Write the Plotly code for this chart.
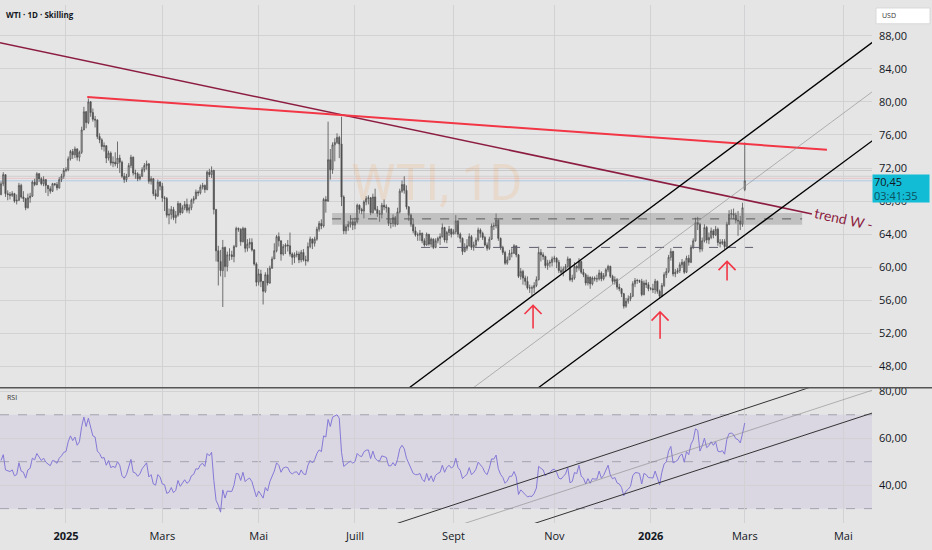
import pandas as pd
import plotly.graph_objects as go

# ---------------- data ----------------
START = "2024-11-21"          # first daily bar (weekday calendar)
FIRST_OPEN = 68.8
CLOSE = [
    70.1, 71.2, 68.9, 68.8, 68.7, 68.9, 68.0, 68.1, 69.9, 68.5,
    68.3, 67.2, 68.4, 68.6, 70.3, 70.0, 71.3, 70.7, 70.1, 70.6,
    69.9, 69.5, 69.2, 70.1, 70.0, 69.6, 70.6, 71.0, 71.7, 71.8,
    73.1, 74.0, 73.6, 74.3, 73.3, 73.9, 76.6, 78.8, 77.5, 80.0,
    78.7, 77.9, 77.8, 75.8, 75.4, 74.6, 74.7, 73.2, 73.8, 72.6,
    72.7, 72.5, 73.2, 72.7, 71.0, 70.6, 71.0, 72.3, 73.3, 71.4,
    71.3, 70.7, 71.0, 71.8, 72.3, 72.5, 70.4, 70.7, 68.9, 68.6,
    70.3, 69.8, 68.4, 68.3, 66.3, 66.4, 67.0, 66.0, 66.3, 67.7,
    66.6, 67.2, 67.6, 66.9, 67.2, 68.1, 68.3, 69.1, 69.0, 69.7,
    69.9, 69.4, 71.5, 71.2, 71.7, 67.0, 62.0, 60.7, 59.6, 62.4,
    60.1, 61.5, 61.5, 61.3, 62.5, 64.7, 64.6, 63.1, 64.7, 62.3,
    62.8, 63.0, 62.1, 60.4, 58.2, 59.2, 58.3, 57.1, 59.1, 58.1,
    59.9, 61.0, 62.0, 63.7, 63.2, 61.6, 62.5, 62.7, 62.6, 61.6,
    61.2, 61.5, 61.6, 60.9, 61.8, 60.9, 60.8, 62.5, 63.4, 62.9,
    63.4, 64.6, 65.3, 65.0, 68.2, 68.0, 73.0, 71.8, 74.8, 75.1,
    75.7, 74.9, 68.5, 64.4, 64.9, 65.2, 65.5, 65.1, 65.5, 67.5,
    67.0, 66.8, 67.9, 68.3, 68.4, 66.6, 68.5, 67.0, 66.5, 66.4,
    67.5, 67.3, 67.2, 65.3, 65.3, 66.0, 65.2, 66.7, 69.2, 70.0,
    69.3, 67.3, 66.3, 65.2, 64.4, 63.9, 63.9, 64.1, 63.2, 62.7,
    64.0, 62.8, 63.4, 62.4, 63.2, 63.5, 63.7, 64.8, 63.3, 64.2,
    64.6, 64.0, 64.3, 65.6, 64.0, 63.5, 61.9, 62.3, 62.6, 63.7,
    62.4, 62.7, 63.3, 64.5, 64.1, 63.6, 62.7, 62.3, 63.4, 65.0,
    65.0, 65.7, 63.5, 62.4, 61.8, 60.5, 60.9, 61.7, 61.7, 62.6,
    61.5, 58.9, 59.5, 58.7, 58.3, 57.5, 57.5, 57.5, 57.8, 58.5,
    61.8, 61.5, 61.3, 60.2, 60.5, 60.6, 61.0, 61.1, 60.6, 59.6,
    59.4, 59.8, 60.1, 61.0, 58.5, 58.7, 60.1, 59.9, 60.7, 59.4,
    59.1, 58.1, 58.8, 58.0, 58.7, 58.6, 58.6, 59.3, 58.6, 59.0,
    59.7, 60.1, 58.9, 58.3, 58.5, 57.6, 57.4, 56.8, 55.3, 55.9,
    56.2, 56.5, 58.0, 58.4, 58.4, 58.3, 56.7, 58.1, 57.9, 57.4,
    57.4, 57.3, 58.3, 57.1, 56.5, 57.8, 59.1, 59.5, 61.2, 61.9,
    59.2, 59.4, 59.6, 60.3, 60.6, 59.4, 61.1, 60.6, 62.4, 63.2,
    65.4, 65.2, 62.2, 63.2, 64.8, 63.3, 63.6, 64.4, 63.9, 64.6,
    63.0, 62.9, 63.1, 62.5, 65.2, 66.4, 66.5, 66.3, 65.7, 65.6,
    65.2, 67.2, 70.45,
]
HIGH = [
    70.4, 71.5, 71.2, 69.3, 69.1, 69.2, 69.0, 68.8, 70.2, 70.1,
    69.2, 68.4, 68.9, 69.0, 70.5, 70.7, 71.5, 71.4, 70.9, 71.0,
    70.6, 69.9, 69.8, 70.2, 70.2, 70.3, 70.9, 71.3, 72.0, 72.1,
    73.4, 74.2, 74.3, 74.6, 74.4, 74.1, 77.0, 79.4, 78.9, 80.4,
    80.1, 79.2, 78.3, 77.9, 76.2, 75.6, 75.1, 74.6, 74.1, 74.0,
    73.4, 73.9, 75.2, 73.6, 72.9, 71.4, 71.3, 72.6, 73.6, 73.4,
    71.8, 71.5, 71.3, 72.1, 72.6, 72.9, 72.6, 71.0, 70.8, 69.4,
    70.6, 70.4, 70.2, 68.6, 68.5, 67.1, 67.4, 67.3, 66.8, 68.0,
    67.8, 67.5, 68.0, 68.3, 67.6, 68.3, 68.6, 69.4, 69.3, 70.0,
    70.2, 70.0, 71.7, 71.9, 72.2, 71.8, 67.0, 62.6, 62.1, 63.3,
    62.5, 61.9, 62.3, 62.0, 62.7, 64.9, 64.8, 64.7, 64.9, 64.8,
    63.4, 63.5, 63.5, 62.2, 60.6, 59.8, 59.7, 58.0, 59.4, 59.9,
    60.2, 61.3, 62.9, 63.9, 64.2, 63.1, 62.8, 62.9, 63.3, 64.2,
    61.8, 61.8, 62.0, 61.9, 62.1, 62.2, 61.4, 63.0, 63.7, 63.5,
    63.7, 64.9, 65.6, 65.8, 68.4, 68.6, 77.6, 74.3, 75.1, 75.6,
    76.2, 75.9, 78.2, 68.7, 65.2, 65.6, 66.3, 65.8, 66.0, 67.7,
    67.6, 67.2, 68.1, 68.6, 68.7, 68.5, 68.9, 69.5, 67.4, 66.9,
    67.8, 68.2, 67.6, 67.2, 65.8, 66.4, 66.2, 67.2, 69.5, 70.5,
    71.0, 69.9, 67.4, 66.5, 65.9, 64.9, 64.2, 64.5, 64.2, 63.5,
    64.2, 64.0, 63.6, 63.5, 63.5, 63.7, 64.1, 65.3, 64.9, 64.4,
    65.0, 64.7, 64.6, 66.3, 65.7, 64.2, 63.6, 62.9, 63.4, 64.1,
    63.9, 63.1, 63.6, 64.8, 64.7, 64.3, 63.8, 63.0, 63.7, 65.3,
    65.4, 66.5, 65.8, 63.6, 62.6, 62.0, 61.3, 62.1, 62.3, 62.8,
    62.6, 61.6, 59.9, 59.7, 59.0, 58.9, 57.9, 57.8, 58.2, 58.9,
    62.5, 62.2, 61.8, 61.4, 60.9, 60.9, 61.3, 61.4, 61.2, 60.9,
    60.1, 60.1, 60.4, 61.3, 61.1, 59.1, 60.6, 60.3, 61.1, 60.8,
    59.8, 59.3, 59.1, 58.9, 58.9, 58.9, 59.1, 59.7, 59.5, 59.3,
    59.9, 60.3, 60.2, 59.1, 58.9, 58.7, 58.0, 57.5, 56.9, 56.3,
    56.6, 56.9, 58.3, 58.7, 58.6, 58.5, 58.6, 58.4, 58.5, 58.2,
    57.6, 58.0, 58.6, 58.4, 57.3, 58.1, 59.4, 59.9, 61.5, 62.3,
    62.0, 59.8, 59.9, 60.6, 61.0, 60.8, 61.4, 61.5, 62.7, 63.5,
    66.0, 66.1, 65.4, 63.6, 65.2, 65.0, 64.2, 64.8, 64.6, 65.0,
    64.8, 63.4, 63.4, 63.4, 65.5, 66.9, 67.0, 67.1, 66.6, 66.8,
    66.2, 67.8, 75.1,
]
LOW = [
    68.7, 69.8, 68.5, 68.1, 68.2, 68.5, 67.8, 67.6, 68.0, 68.3,
    67.9, 66.9, 67.1, 67.8, 68.5, 69.8, 69.9, 70.3, 69.9, 69.8,
    69.0, 68.6, 68.9, 69.1, 69.8, 69.3, 69.5, 70.3, 70.7, 71.5,
    71.6, 72.9, 73.1, 73.2, 72.9, 72.8, 73.7, 76.6, 76.8, 77.3,
    78.2, 77.6, 76.9, 75.5, 75.0, 74.2, 74.0, 72.6, 72.9, 72.3,
    72.1, 72.2, 72.0, 71.4, 70.8, 70.2, 70.3, 70.9, 72.0, 71.1,
    70.7, 70.4, 70.5, 70.9, 71.5, 71.8, 70.1, 70.0, 68.6, 68.2,
    68.5, 69.3, 67.9, 66.8, 66.0, 65.2, 65.8, 65.7, 65.3, 66.1,
    66.3, 66.5, 66.9, 66.6, 66.5, 66.9, 67.7, 68.2, 68.6, 68.8,
    69.4, 69.0, 69.3, 70.9, 70.8, 66.4, 60.7, 57.8, 58.9, 55.2,
    58.8, 59.5, 60.8, 60.9, 60.6, 62.4, 64.3, 62.6, 63.0, 61.8,
    61.9, 62.3, 61.9, 60.2, 57.7, 57.8, 57.6, 55.5, 56.9, 57.8,
    58.0, 59.8, 61.0, 61.8, 62.5, 60.8, 61.4, 61.6, 61.9, 61.3,
    60.3, 60.5, 61.2, 60.5, 60.6, 60.7, 60.2, 60.6, 62.3, 62.2,
    62.5, 63.2, 64.3, 64.6, 64.8, 66.6, 67.9, 70.6, 71.3, 72.8,
    74.9, 73.2, 67.4, 64.0, 64.0, 64.4, 64.8, 64.5, 64.6, 65.3,
    66.5, 66.4, 65.9, 67.5, 67.6, 66.3, 66.5, 66.8, 66.1, 65.5,
    65.9, 66.9, 66.6, 65.0, 64.7, 64.9, 64.9, 65.1, 66.5, 69.0,
    68.9, 67.0, 65.6, 64.9, 64.1, 63.7, 63.2, 63.2, 62.9, 62.5,
    62.6, 62.6, 62.4, 62.2, 62.3, 62.9, 62.7, 63.6, 63.0, 62.9,
    63.8, 63.6, 64.0, 64.0, 63.6, 63.0, 61.5, 61.8, 62.0, 62.5,
    62.1, 62.0, 62.4, 63.1, 63.6, 63.3, 62.5, 62.0, 62.1, 63.3,
    64.5, 64.7, 63.2, 62.1, 61.5, 60.3, 60.3, 60.9, 61.2, 61.6,
    61.2, 58.7, 58.5, 57.9, 57.8, 57.3, 56.9, 56.5, 56.9, 57.6,
    58.4, 60.7, 60.9, 59.9, 59.7, 60.0, 60.1, 60.6, 59.9, 59.3,
    59.2, 58.9, 59.5, 59.9, 58.3, 58.2, 58.5, 59.4, 59.6, 59.2,
    58.8, 57.8, 57.8, 57.4, 57.8, 58.3, 58.2, 58.4, 58.3, 58.4,
    58.8, 59.4, 58.7, 58.0, 57.9, 57.3, 57.1, 56.4, 55.0, 55.1,
    55.6, 55.9, 56.4, 57.6, 58.0, 58.1, 56.5, 56.6, 57.5, 57.1,
    57.2, 56.9, 56.8, 56.8, 56.2, 56.4, 57.6, 58.7, 59.3, 60.8,
    58.9, 58.8, 59.2, 59.3, 59.9, 59.2, 59.3, 60.2, 60.5, 62.2,
    63.1, 64.5, 61.8, 61.9, 63.0, 62.9, 62.8, 63.4, 63.5, 63.8,
    62.6, 62.4, 62.7, 62.2, 62.3, 65.1, 65.9, 65.8, 65.3, 63.8,
    64.5, 64.9, 69.2,
]
GAP_OPEN = {332: 69.4}        # bars that opened away from the prior close
RSI = [
    50.5, 53, 46.5, 46, 45.8, 46.5, 44, 44.5, 49.5, 46,
    45.5, 43, 46.5, 47.2, 51.5, 50.8, 53.5, 52, 50.5, 51.5,
    49.8, 49, 48.3, 50.5, 50.2, 49.3, 51.5, 52.5, 54, 54.3,
    58.5, 61, 59, 60.5, 57, 58.5, 65, 69, 65, 68.5,
    64, 61, 60.5, 54.5, 53.5, 51.5, 51.8, 48.5, 50.5, 47.5,
    48, 47.5, 50, 48.5, 44, 43, 44.5, 48, 51, 45.5,
    45.2, 43.8, 44.8, 47, 48.5, 49.5, 43.5, 44.5, 40.5, 40,
    44.5, 43.5, 40.5, 40.2, 36.5, 37, 39, 36.8, 37.8, 42,
    39.5, 41.2, 42.3, 40.8, 41.6, 44, 44.6, 47, 46.8, 48.7,
    49.3, 48, 53.5, 52.5, 54, 42, 33.5, 31.5, 28.5, 38,
    34.5, 37.5, 37.5, 37.3, 40, 45, 44.8, 42, 45.5, 41.5,
    42.5, 43, 41.5, 38.5, 35, 37.5, 36, 34.5, 39, 37.5,
    41.5, 44, 46, 49.5, 48.5, 45.5, 47.3, 47.7, 47.5, 45.5,
    44.8, 45.5, 45.7, 44.3, 46.5, 44.8, 44.5, 48.5, 50.5, 49.5,
    50.8, 53.5, 55, 54.3, 61, 60.5, 68, 65, 69, 69.5,
    70, 68.5, 54, 48, 49, 49.6, 50.2, 49.4, 50, 53.5,
    52.5, 52.2, 54.2, 54.9, 55, 51.3, 54.5, 51.5, 50.5, 50.3,
    52.5, 52, 51.8, 48.3, 48.2, 49.6, 48.2, 51, 55.5, 57,
    55.5, 51.5, 49.5, 47.5, 45, 44.5, 44.5, 45, 42.5, 41.5,
    45, 42, 44, 41.5, 44.2, 45, 45.5, 48.5, 45.5, 47.5,
    48.5, 47.3, 48, 51.5, 47.5, 46.3, 42.8, 43.8, 44.6, 47.5,
    44.5, 45.3, 46.8, 49.8, 48.7, 47.5, 45.4, 44.5, 47.3, 51.2,
    51.1, 52.8, 47, 44.6, 43.3, 40.8, 41.8, 43.8, 43.8, 45.8,
    43.5, 36, 38, 36.8, 36, 35, 35.3, 35.2, 36.5, 38.8,
    48, 47.2, 46.5, 44, 45, 45.3, 46.5, 46.8, 45.5, 43,
    42.6, 43.7, 44.8, 47.5, 41, 41.6, 45.4, 44.9, 48.5, 43.8,
    43, 40.5, 42.8, 40.8, 42.8, 42.6, 42.6, 46, 43, 44.2,
    46.2, 48.5, 44.2, 42.7, 43.3, 41, 40.5, 39, 35.5, 37.5,
    38.3, 39.5, 44, 45.3, 45.3, 45, 40.5, 45, 44.5, 43.2,
    43.2, 43, 46, 42.8, 40.2, 45.5, 49, 50, 54.5, 56.5,
    49.5, 50, 50.6, 52.5, 53.3, 49.8, 54.3, 53, 57.5, 59.3,
    64, 63.3, 54.5, 56.8, 60, 56, 56.8, 58.5, 57, 58.5,
    54.5, 54.2, 54.7, 53.2, 59.5, 62, 62.2, 61.6, 59.8, 59.4,
    58, 62, 66.5,
]
N = len(CLOSE)
assert len(HIGH) == N and len(LOW) == N and len(RSI) == N, (len(CLOSE), len(HIGH), len(LOW), len(RSI))

MONTH_TICKS = ["2025-01", "2025-03", "2025-05", "2025-07", "2025-09",
               "2025-11", "2026-01", "2026-03", "2026-05"]
MONTH_TEXT = ["<b>2025</b>", "Mars", "Mai", "Juill", "Sept", "Nov",
              "<b>2026</b>", "Mars", "Mai"]
PRICE_TICKS = [48, 52, 56, 60, 64, 68, 72, 76, 80, 84, 88]
RSI_TICKS = [40, 60, 80]
RSI_LEVELS = [70, 50, 30]
LAST_PRICE = 70.45
COUNTDOWN = "03:41:35"
REF_LINES = [71.7, 71.0, 70.75]      # faint horizontal reference lines

# drawings: (bar index, value)
TREND_W = [(-0.5, 87.15), (362.0, 66.45)]
RED_RES = [(38.5, 80.6), (368.7, 74.2)]
CH_UP = [(180.0, 44.98), (392.0, 87.81)]
CH_MID = [(208.0, 44.86), (392.0, 81.84)]
CH_LOW = [(238.0, 45.06), (392.0, 75.91)]
ZONE = [(147.8, 65.13), (357.6, 66.56)]
ZONE_MID = 65.85
SUPPORT = [(187.5, 62.4), (335.7, 62.4)]
ARROWS = [(237.5, 55.4, 52.6), (294.2, 54.6, 51.35), (324.1, 60.7, 58.4)]
RSI_UP = [(170.0, 21.55), (362.0, 81.97)]
RSI_MID = [(205.0, 23.09), (392.0, 81.43)]
RSI_LOW = [(235.0, 22.72), (392.0, 71.70)]

# ---------------- build ----------------
cal = pd.bdate_range(START, "2026-07-31")
xi = list(range(N))
month_key = list(cal.strftime("%Y-%m"))
tickvals = [int(month_key.index(m)) for m in MONTH_TICKS]

opens = [FIRST_OPEN] + CLOSE[:-1]
for k, v in GAP_OPEN.items():
    opens[k] = v

BG = "#e5e5e6"
GRID = "#d2d2d4"
FONT = "Open Sans"
TXT = "#131722"

fig = go.Figure()
fig.add_trace(go.Candlestick(
    x=xi, open=opens, high=HIGH, low=LOW, close=CLOSE,
    increasing=dict(line=dict(color="#4f4f4f", width=0.8), fillcolor="#c4c4c4"),
    decreasing=dict(line=dict(color="#4f4f4f", width=0.8), fillcolor="#4f4f4f"),
    whiskerwidth=0, xaxis="x", yaxis="y", hoverinfo="skip", showlegend=False))
fig.add_trace(go.Scatter(
    x=xi, y=RSI, mode="lines", line=dict(color="#8479d6", width=1),
    xaxis="x2", yaxis="y2", hoverinfo="skip", showlegend=False))

XR = [-0.45, 388.8]
shapes = []


def seg(pts, color, width, xr="x", yr="y", dash="solid"):
    (a, b), (c, d) = pts
    shapes.append(dict(type="line", xref=xr, yref=yr, x0=a, y0=b, x1=c, y1=d,
                       line=dict(color=color, width=width, dash=dash), layer="above"))


# faint reference lines + last price line
for v, col in zip(REF_LINES, ["#cacaca", "#cfcfcf", "rgba(242,54,69,0.18)"]):
    shapes.append(dict(type="line", xref="x domain", yref="y", x0=0, x1=1, y0=v, y1=v,
                       line=dict(color=col, width=1), layer="below"))
shapes.append(dict(type="line", xref="x domain", yref="y", x0=0, x1=1,
                   y0=LAST_PRICE, y1=LAST_PRICE,
                   line=dict(color="rgba(80,150,230,0.35)", width=1), layer="below"))

# zone + dashed levels
(z0, zl), (z1, zh) = ZONE
shapes.append(dict(type="rect", xref="x", yref="y", x0=z0, x1=z1, y0=zl, y1=zh,
                   fillcolor="rgba(120,120,120,0.33)", line=dict(width=0), layer="above"))
seg([(z0, ZONE_MID), (z1, ZONE_MID)], "#5a5a5a", 1, dash="dash")
seg(SUPPORT, "#5e5e6e", 1, dash="dash")

# trend lines
seg(TREND_W, "#8c1d40", 1.6)
seg(RED_RES, "#f23645", 2)
seg(CH_UP, "#000000", 1.3)
seg(CH_LOW, "#000000", 1.3)
seg(CH_MID, "#8a8a8a", 0.6)

# red arrows
HW, HH = 3.8, 1.05
for ax_, tip, tail in ARROWS:
    path = (f"M {ax_},{tail} L {ax_},{tip} M {ax_ - HW},{tip - HH} "
            f"L {ax_},{tip} L {ax_ + HW},{tip - HH}")
    shapes.append(dict(type="path", xref="x", yref="y", path=path,
                       line=dict(color="#f23645", width=1.6), layer="above"))

# RSI band, levels and channel
shapes.append(dict(type="rect", xref="x2 domain", yref="y2", x0=0, x1=1,
                   y0=RSI_LEVELS[2], y1=RSI_LEVELS[0],
                   fillcolor="rgba(126,87,194,0.10)", line=dict(width=0), layer="below"))
for lv in RSI_LEVELS:
    shapes.append(dict(type="line", xref="x2 domain", yref="y2", x0=0, x1=1, y0=lv, y1=lv,
                       line=dict(color="#a3a3b0", width=1, dash="dash"), layer="below"))
seg(RSI_UP, "#333333", 1, "x2", "y2")
seg(RSI_LOW, "#333333", 1, "x2", "y2")
seg(RSI_MID, "#8a8a8a", 0.6, "x2", "y2")

# pane separator
shapes.append(dict(type="line", xref="paper", yref="paper", x0=0, x1=932 / 872,
                   y0=0.2612, y1=0.2612, line=dict(color="#555555", width=1.6)))
# USD box
shapes.append(dict(type="rect", xref="paper", yref="paper", x0=876 / 872, x1=930 / 872,
                   y0=1 - 19 / 523, y1=1 - 3 / 523, fillcolor="#ffffff",
                   line=dict(color="#d8d8d8", width=1)))

annotations = [
    dict(text="WTI, 1D", xref="paper", yref="paper", x=0.501, y=0.656, showarrow=False,
         font=dict(family="Roboto", size=50, color="rgba(255,140,40,0.13)")),
    dict(text="WTI · 1D · Skilling", xref="paper", yref="paper", x=0.005, y=1 - 10 / 523,
         xanchor="left", yanchor="middle", showarrow=False,
         font=dict(family=FONT, size=8, color=TXT, weight=700)),
    dict(text="RSI", xref="paper", yref="paper", x=0.006, y=1 - 396 / 523,
         xanchor="left", yanchor="middle", showarrow=False,
         font=dict(family=FONT, size=7, color="#333333")),
    dict(text="trend W -", xref="x", yref="y", x=375.9, y=65.85, showarrow=False,
         textangle=12, font=dict(family="Lato", size=14, color="#8c1d40")),
    dict(text="USD", xref="paper", yref="paper", x=880 / 872, y=1 - 11 / 523,
         xanchor="left", yanchor="middle", showarrow=False,
         font=dict(family=FONT, size=7, color="#333333")),
    dict(text=f"{LAST_PRICE:.2f}".replace(".", ",") +
              f"<br><span style='color:#0b4f5f'>{COUNTDOWN}</span>",
         xref="paper", yref="paper", x=872 / 872, y=1 - 185 / 523,
         xanchor="left", yanchor="middle", showarrow=False, align="left",
         bgcolor="#12bcd4", width=54, height=25, borderpad=1,
         font=dict(family=FONT, size=11, color=TXT)),
]

fig.update_layout(
    width=932, height=550, autosize=False,
    margin=dict(l=0, r=60, t=0, b=27),
    paper_bgcolor=BG, plot_bgcolor=BG,
    separators=", ",
    showlegend=False,
    font=dict(family=FONT, size=11, color=TXT),
    xaxis=dict(domain=[0, 1], anchor="y", range=XR, tickvals=tickvals,
               showticklabels=False, showgrid=True, gridcolor=GRID, gridwidth=1,
               zeroline=False, showline=False, rangeslider=dict(visible=False), fixedrange=True),
    yaxis=dict(domain=[0.262, 1], anchor="x", side="right", range=[45.49, 91.71],
               tickvals=PRICE_TICKS, tickformat=".2f", showgrid=True, gridcolor=GRID,
               zeroline=False, showline=False, ticks="", ticklabelstandoff=6,
               tickfont=dict(family=FONT, size=11, color=TXT)),
    xaxis2=dict(domain=[0, 1], anchor="y2", range=XR, matches="x", tickvals=tickvals,
                ticktext=MONTH_TEXT, showgrid=True, gridcolor=GRID, zeroline=False,
                showline=False, ticks="", ticklabelstandoff=5,
                tickfont=dict(family=FONT, size=11, color=TXT)),
    yaxis2=dict(domain=[0, 0.26], anchor="x2", side="right", range=[23.88, 81.27],
                tickvals=RSI_TICKS, tickformat=".2f", showgrid=True, gridcolor=GRID,
                zeroline=False, showline=False, ticks="", ticklabelstandoff=6,
                tickfont=dict(family=FONT, size=11, color=TXT)),
    shapes=shapes,
    annotations=annotations,
)

fig.write_html("out.html", config={"displayModeBar": False, "staticPlot": True},
               post_script="document.body.style.margin='0';"
               "document.body.style.background='" + BG + "';")
